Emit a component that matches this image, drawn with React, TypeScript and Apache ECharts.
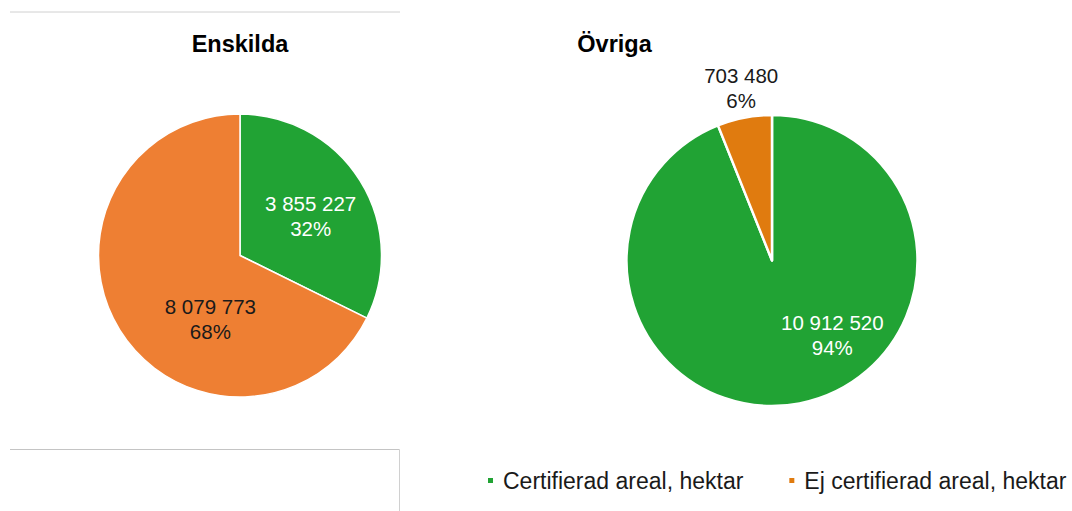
import React, { useEffect, useRef } from "react";
import * as echarts from "echarts";

const categories = ["Certifierad areal, hektar", "Ej certifierad areal, hektar"];
const enskildaValues = [3855227, 8079773];
const ovrigaValues = [10912520, 703480];
const titles = ["Enskilda", "Övriga"];

const GREEN = "#21A334";
const ORANGE_L = "#EE7F33";
const ORANGE_R = "#E07B0F";
const FONT = "Liberation Sans, Arial, sans-serif";

const fmt = (v: number) => String(v).replace(/\B(?=(\d{3})+(?!\d))/g, " ");

export default function App() {
  const ref = useRef<HTMLDivElement>(null);
  useEffect(() => {
    const chart = echarts.init(ref.current!, null, { renderer: "svg" });
    const labelFmt = (p: any) => fmt(p.value) + "\n" + Math.round(p.percent) + "%";
    const baseLabel = {
      show: true,
      position: "inside",
      formatter: labelFmt,
      fontFamily: FONT,
      fontSize: 20.5,
      lineHeight: 25,
      align: "center",
    };
    const titleStyle = { fontFamily: FONT, fontWeight: "bold", fontSize: 23.5, color: "#000" };
    chart.setOption({
      animation: false,
      backgroundColor: "#ffffff",
      title: [
        { text: titles[0], left: 235, top: 27, textAlign: "center", textStyle: titleStyle },
        { text: titles[1], left: 609.5, top: 27, textAlign: "center", textStyle: titleStyle },
      ],
      legend: {
        left: 486,
        top: 469,
        padding: 0,
        icon: "rect",
        itemWidth: 7,
        itemHeight: 7,
        itemGap: 44,
        textStyle: { fontFamily: FONT, fontSize: 23, color: "#1a1a1a", padding: [0, 0, 0, 4] },
        data: [
          { name: categories[0], itemStyle: { color: GREEN } },
          { name: categories[1], itemStyle: { color: ORANGE_R } },
        ],
        selectedMode: false,
      },
      graphic: [
        { type: "line", shape: { x1: 10, y1: 12, x2: 400, y2: 12 }, style: { stroke: "#d0d0d0", lineWidth: 1 } },
        { type: "line", shape: { x1: 10, y1: 449.5, x2: 399.5, y2: 449.5 }, style: { stroke: "#c4c4c4", lineWidth: 1 } },
        { type: "line", shape: { x1: 399.5, y1: 449.5, x2: 399.5, y2: 511 }, style: { stroke: "#d0d0d0", lineWidth: 1 } },
      ],
      series: [
        {
          type: "pie",
          center: [240, 255.5],
          radius: 141.5,
          startAngle: 90,
          clockwise: true,
          itemStyle: { borderColor: "#fff", borderWidth: 1.5 },
          labelLine: { show: false },
          label: baseLabel,
          data: [
            { name: categories[0], value: enskildaValues[0], itemStyle: { color: GREEN }, label: { color: "#fff", offset: [8, -1] } },
            { name: categories[1], value: enskildaValues[1], itemStyle: { color: ORANGE_L }, label: { color: "#1a1a1a", offset: [33, 24.5] } },
          ],
        },
        {
          type: "pie",
          center: [772, 260.5],
          radius: 145.5,
          startAngle: 90,
          clockwise: true,
          itemStyle: { borderColor: "#fff", borderWidth: 2.5 },
          labelLine: { show: false },
          label: baseLabel,
          data: [
            { name: categories[0], value: ovrigaValues[0], itemStyle: { color: GREEN }, label: { color: "#fff", offset: [46, 0] } },
            { name: categories[1], value: ovrigaValues[1], itemStyle: { color: ORANGE_R }, label: { color: "#1a1a1a", offset: [-16.5, -98.5] } },
          ],
        },
      ],
    });
    return () => chart.dispose();
  }, []);
  return <div ref={ref} style={{ position: "fixed", left: 0, top: 0, width: 1072, height: 511 }} />;
}
